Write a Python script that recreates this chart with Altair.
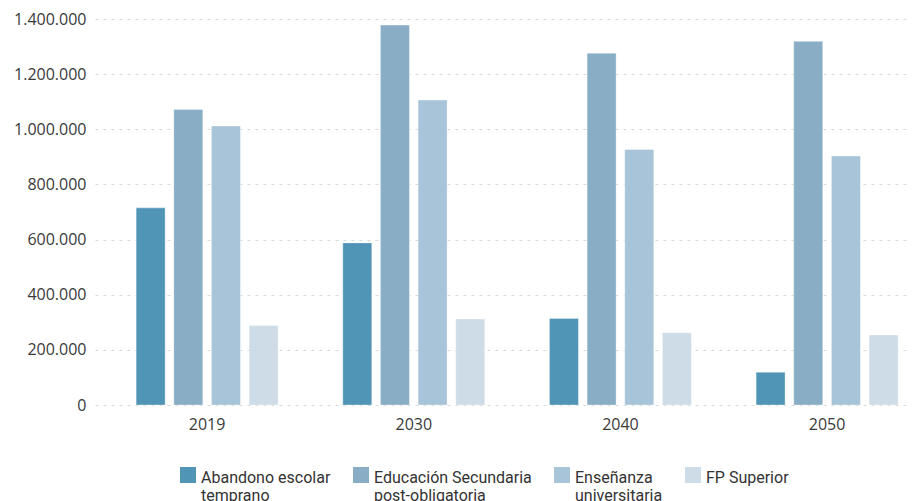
import altair as alt
import pandas as pd

years = ["2019", "2030", "2040", "2050"]
series = [
    "Abandono escolar temprano",
    "Educación Secundaria post-obligatoria",
    "Enseñanza universitaria",
    "FP Superior",
]
abandono = [715000, 588000, 314000, 119000]
educacion = [1072000, 1378000, 1276000, 1319000]
ensenanza = [1012000, 1106000, 927000, 903000]
fp = [288000, 312000, 262000, 254000]
colors = ["#5095b6", "#88adc4", "#a7c4d9", "#cddce6"]

rows = []
for name, vals in zip(series, [abandono, educacion, ensenanza, fp]):
    for y, v in zip(years, vals):
        rows.append({"year": y, "serie": name, "value": v})
df = pd.DataFrame(rows)

label_expr = (
    "datum.label == 'Abandono escolar temprano' ? ['Abandono escolar', 'temprano'] : "
    "datum.label == 'Educación Secundaria post-obligatoria' ? ['Educación Secundaria\u00a0\u00a0', 'post-obligatoria'] : "
    "datum.label == 'Enseñanza universitaria' ? ['Enseñanza', 'universitaria'] : [datum.label, '']"
)

chart = (
    alt.Chart(df)
    .mark_bar(stroke="white", strokeWidth=1, strokeOpacity=0.35)
    .encode(
        x=alt.X(
            "year:N",
            sort=years,
            title=None,
            scale=alt.Scale(paddingInner=0.313, paddingOuter=0.126, align=0.79),
            axis=alt.Axis(labelAngle=0, ticks=False, domain=False, labelPadding=11,
                          labelFontSize=16, labelColor="#3a3a3a", labelFont="Open Sans"),
        ),
        xOffset=alt.XOffset("serie:N", sort=series,
                            scale=alt.Scale(paddingInner=0.23, paddingOuter=0)),
        y=alt.Y(
            "value:Q",
            title=None,
            scale=alt.Scale(domain=[0, 1400000], nice=False),
            axis=alt.Axis(values=[0, 200000, 400000, 600000, 800000, 1000000, 1200000, 1400000],
                          format=",.0f", ticks=False, domain=False, labelPadding=9,
                          labelFontSize=16, labelColor="#3a3a3a", labelFont="Open Sans",
                          grid=True, gridColor="#d9d9d9", gridDash=[3, 5], gridWidth=1),
        ),
        color=alt.Color(
            "serie:N",
            sort=series,
            scale=alt.Scale(domain=series, range=colors),
            legend=alt.Legend(
                title=None, orient="none", legendX=85, legendY=443,
                direction="horizontal", columns=4,
                symbolType="M-1,-0.375H1V1.625H-1Z", symbolSize=256, symbolStrokeWidth=0,
                labelFontSize=16, labelFont="Roboto", labelColor="#333",
                labelExpr=label_expr, labelBaseline="top", labelOffset=5,
                columnPadding=22, labelLimit=300,
            ),
        ),
    )
    .properties(
        width=814,
        height=386,
        autosize=alt.AutoSizeParams(type="none"),
        padding={"left": 87, "top": 11, "right": 0, "bottom": 98},
    )
    .configure(locale={"number": {"decimal": ",", "thousands": ".", "grouping": [3], "currency": ["", " €"]}})
    .configure_view(stroke=None)
)

chart.save("out.html", embed_options={"renderer": "svg", "actions": False})
